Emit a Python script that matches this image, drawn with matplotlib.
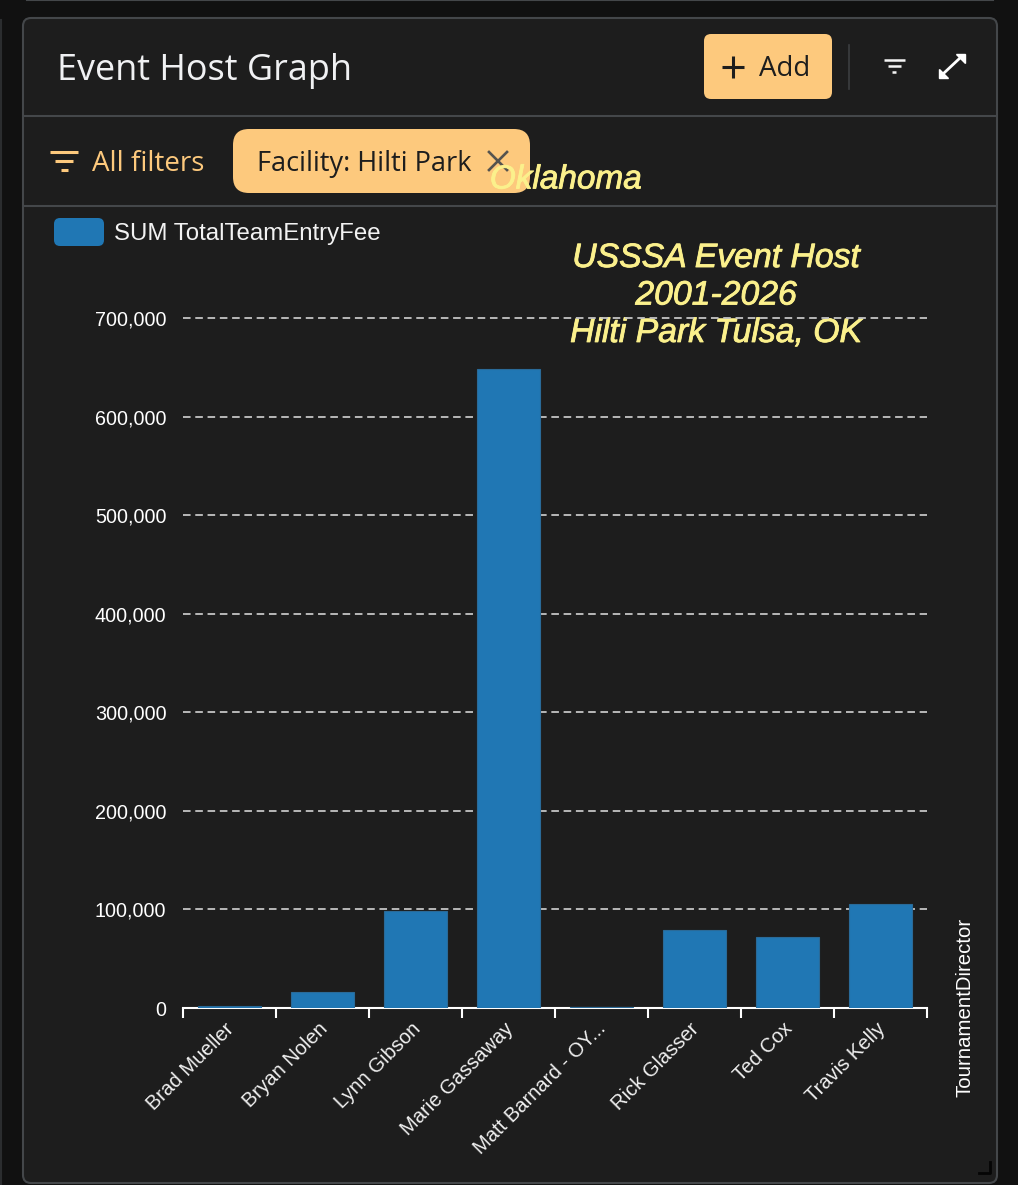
import matplotlib
matplotlib.use("Agg")
import matplotlib.pyplot as plt
import matplotlib.patheffects as pe
from matplotlib.patches import FancyBboxPatch
from matplotlib.ticker import FuncFormatter
from matplotlib.transforms import ScaledTranslation

directors = ["Brad Mueller", "Bryan Nolen", "Lynn Gibson", "Marie Gassaway",
             "Matt Barnard - OY...", "Rick Glasser", "Ted Cox", "Travis Kelly"]
entry_fees = [2500, 16000, 98000, 648000, 1000, 79000, 72000, 105500]
y_ticks = [0, 100000, 200000, 300000, 400000, 500000, 600000, 700000]
title_lines = "USSSA Event Host\n2001-2026\nHilti Park Tulsa, OK"

W, H = 1018, 1185
BG = "#1d1d1d"
OUTER = "#111111"
EDGE = "#44474a"
ORANGE = "#fdc97d"
BLUE = "#2077b4"
YELLOW = "#fbf08c"
UI = "Open Sans"
CH = "Liberation Sans"

fig = plt.figure(figsize=(W / 100, H / 100), dpi=100, facecolor=OUTER)

# page chrome in pixel coordinates
ui = fig.add_axes([0, 0, 1, 1], zorder=0)
ui.set_xlim(0, W)
ui.set_ylim(H, 0)
ui.axis("off")


def rbox(x0, y0, x1, y1, r, fc, ec="none", lw=0, z=1):
    ui.add_patch(FancyBboxPatch((x0 + r, y0 + r), x1 - x0 - 2 * r, y1 - y0 - 2 * r,
                                boxstyle=f"round,pad={r},rounding_size={r}",
                                fc=fc, ec=ec, lw=lw, zorder=z))


# neighbouring panel edges
ui.plot([27, 993], [0, 0], color=EDGE, lw=1.5)
ui.plot([0.5, 0.5], [20, 1185], color="#2b2d2f", lw=1.5)

rbox(23, 18, 997, 1183, 8, BG, EDGE, 1.5)
ui.plot([24, 996], [116, 116], color=EDGE, lw=1.5, zorder=2)
ui.plot([24, 996], [205.5, 205.5], color=EDGE, lw=1.5, zorder=2)

ui.text(57, 71, "Event Host Graph", family=UI, fontsize=25.9, color="#f0f1f3",
        va="center", ha="left", zorder=3)

# Add button
rbox(704, 34, 832, 99, 7, ORANGE, z=2)
ui.plot([733, 733], [56, 78], color="#1d1d1d", lw=2.2, zorder=3, solid_capstyle="butt")
ui.plot([722, 744], [67, 67], color="#1d1d1d", lw=2.2, zorder=3, solid_capstyle="butt")
ui.text(759, 69, "Add", family=UI, fontsize=20, color="#1d1d1d", va="center", ha="left", zorder=3)
ui.plot([849, 849], [45, 89], color="#3c3e40", lw=1.2, zorder=2)

# filter icon, header
for xa, xb, y in [(884, 905, 60), (888, 901, 66)]:
    ui.plot([xa, xb], [y, y], color="#f4f4f4", lw=1.8, zorder=3, solid_capstyle="butt")
ui.plot([892.5, 896.5], [72, 72], color="#f4f4f4", lw=1.8, zorder=3, solid_capstyle="butt")

# expand icon
ui.plot([944, 960], [73, 58], color="white", lw=2, zorder=3)
ui.fill([939, 939, 948], [69, 78, 78], color="white", zorder=3)
ui.fill([956, 965, 965], [54, 54, 63], color="white", zorder=3)

# filter row
for xa, xb, y in [(50, 78, 152), (55, 73, 161)]:
    ui.plot([xa, xb], [y, y], color=ORANGE, lw=2.2, zorder=3, solid_capstyle="butt")
ui.plot([61, 68], [170, 170], color=ORANGE, lw=2.2, zorder=3, solid_capstyle="butt")
ui.text(92, 164, "All filters", family=UI, fontsize=20, color=ORANGE, va="center", ha="left", zorder=3)

rbox(233, 129, 530, 193, 16, ORANGE, z=2)
ui.text(257, 164, "Facility: Hilti Park", family=UI, fontsize=19.5, color="#1d1d1d",
        va="center", ha="left", zorder=3)
ui.plot([489, 507], [152, 170], color="#55544f", lw=1.9, zorder=3)
ui.plot([507, 489], [152, 170], color="#55544f", lw=1.9, zorder=3)

# resize grip
ui.plot([979, 990, 990], [1173, 1173, 1162], color="#050505", lw=2, zorder=3)

# legend
rbox(54, 218, 104, 246, 6, BLUE, z=3)
ui.text(114, 234, "SUM TotalTeamEntryFee", family=CH, fontsize=17.3, color="#f2f2f2",
        va="center", ha="left", zorder=3)

# chart
ax = fig.add_axes([183 / W, 1 - 1008 / H, (927 - 183) / W, (1008 - 318) / H], zorder=1)
ax.patch.set_alpha(0)
xs = list(range(len(directors)))
ax.bar(xs, entry_fees, width=0.68, color=BLUE, edgecolor="#2a6a98", linewidth=0.8, zorder=3)
ax.set_xlim(-0.5, len(directors) - 0.5)
ax.set_ylim(0, 700000)
ax.set_yticks(y_ticks)
ax.yaxis.set_major_formatter(FuncFormatter(lambda v, _: f"{int(v):,}"))
ax.grid(axis="y", color="#c4c4c4", ls=(0, (4.2, 2.6)), lw=1.3, zorder=1)
for g in ax.get_ygridlines():
    g.set_clip_on(False)
ax.set_axisbelow(True)
for s in ["top", "right", "left"]:
    ax.spines[s].set_visible(False)
ax.spines["bottom"].set_color("white")
ax.spines["bottom"].set_linewidth(1.5)
ax.tick_params(axis="y", length=0, pad=12, labelcolor="white", labelsize=14.2)
ax.tick_params(axis="x", which="major", length=0, pad=8, labelcolor="#f0f0f0", labelsize=14.5)
ax.set_xticks(xs)
ax.set_xticklabels(directors, rotation=45, ha="right", va="top", rotation_mode="anchor")
ax.set_xticks([x - 0.5 for x in xs] + [len(directors) - 0.5], minor=True)
ax.tick_params(axis="x", which="minor", length=7, width=1.5, color="white")
shift = ScaledTranslation(-5 / 100, 0, fig.dpi_scale_trans)
for t in ax.get_xticklabels():
    t.set_family(CH)
    t.set_transform(t.get_transform() + shift)
for t in ax.get_yticklabels():
    t.set_family(CH)

# titles and axis name
halo = [pe.withStroke(linewidth=0.6, foreground=YELLOW)]
ui.text(566, 180, "Oklahoma", family=CH, style="italic", fontsize=24, color=YELLOW,
        ha="center", va="center", zorder=5, path_effects=halo)
ui.text(716, 296, title_lines, family=CH, style="italic", fontsize=24.3, color=YELLOW,
        ha="center", va="center", linespacing=1.27, zorder=5, path_effects=halo)
ui.text(965, 1007, "TournamentDirector", family=CH, fontsize=14.7, color="white",
        rotation=90, ha="center", va="center", zorder=5)

fig.savefig("out.png", dpi=100, facecolor=fig.get_facecolor())
